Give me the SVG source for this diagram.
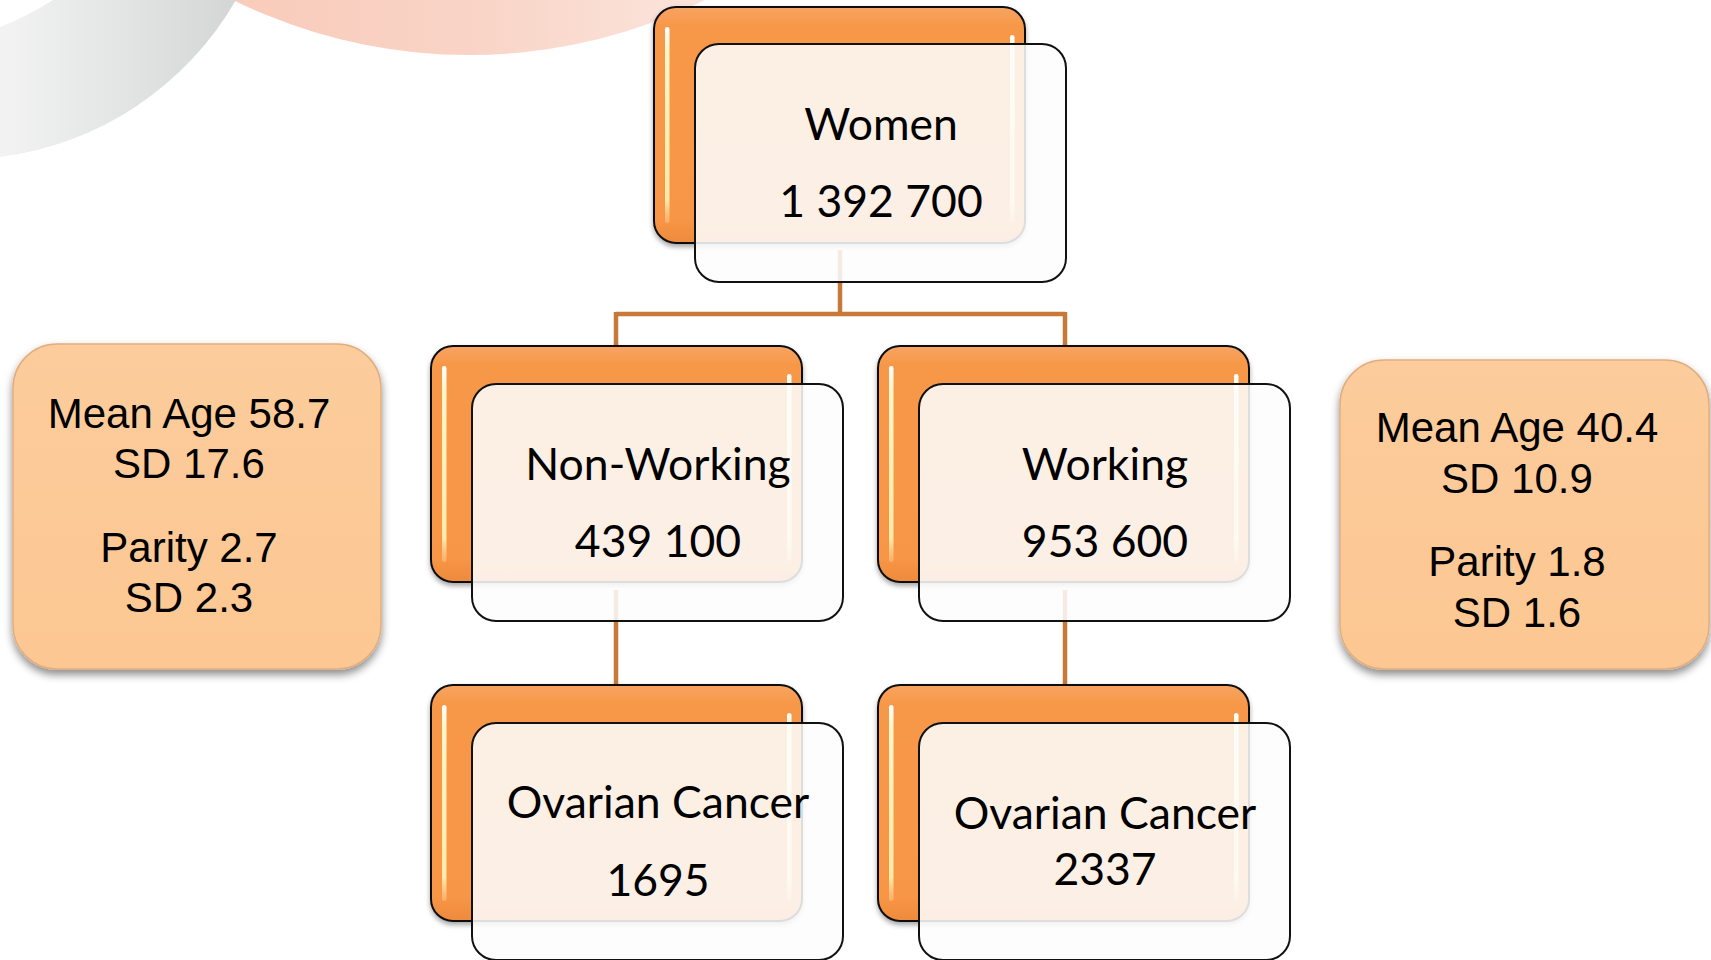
<svg xmlns="http://www.w3.org/2000/svg" width="1711" height="960" viewBox="0 0 1711 960">
  <defs>
    <linearGradient id="greyArc" gradientUnits="userSpaceOnUse" x1="0" y1="0" x2="236" y2="0">
      <stop offset="0" stop-color="#f3f3f3"/>
      <stop offset="1" stop-color="#d4d6d6"/>
    </linearGradient>
    <linearGradient id="peach" gradientUnits="userSpaceOnUse" x1="233" y1="0" x2="705" y2="0">
      <stop offset="0" stop-color="#f9cbba"/>
      <stop offset="0.5" stop-color="#f9d4c6"/>
      <stop offset="1" stop-color="#fbe4dc"/>
    </linearGradient>
    <linearGradient id="orangeFill" x1="0" y1="0" x2="0" y2="1">
      <stop offset="0" stop-color="#f8a463"/>
      <stop offset="0.08" stop-color="#f79848"/>
      <stop offset="0.9" stop-color="#f79646"/>
      <stop offset="1" stop-color="#ee8a3c"/>
    </linearGradient>
    <linearGradient id="shine" x1="0" y1="0" x2="0" y2="1">
      <stop offset="0" stop-color="#ffffff"/>
      <stop offset="0.12" stop-color="#fff6c8"/>
      <stop offset="0.88" stop-color="#ffeaa8"/>
      <stop offset="1" stop-color="#fbc07f" stop-opacity="0.6"/>
    </linearGradient>
    <linearGradient id="sideFill" x1="0" y1="0" x2="0" y2="1">
      <stop offset="0" stop-color="#fccc9c"/>
      <stop offset="1" stop-color="#fcc792"/>
    </linearGradient>
    <filter id="shadow" x="-10%" y="-10%" width="120%" height="125%">
      <feDropShadow dx="0" dy="3" stdDeviation="2.5" flood-color="#000" flood-opacity="0.35"/>
    </filter>
    <filter id="sideShadow" x="-10%" y="-10%" width="120%" height="125%">
      <feDropShadow dx="0" dy="5" stdDeviation="4" flood-color="#000" flood-opacity="0.45"/>
    </filter>
    <style>
      .conn { fill: none; stroke: #c87837; stroke-width: 4.5; }
      .back { fill: url(#orangeFill); stroke: #111; stroke-width: 2; filter: url(#shadow); }
      .hl { fill: url(#shine); }
      .front { fill: #fdfdfd; fill-opacity: 0.87; stroke: #111; stroke-width: 2; }
      .ntext { font-family: Lato, "Open Sans", sans-serif; font-size: 44.5px; fill: #000; text-anchor: middle; }
      .side { fill: url(#sideFill); stroke: #e2ae80; stroke-width: 1.5; filter: url(#sideShadow); }
      .stext { font-family: "Liberation Sans", Arial, sans-serif; font-size: 42px; fill: #000; text-anchor: middle; }
    </style>
  </defs>

  <rect x="0" y="0" width="1711" height="960" fill="#ffffff"/>

  <g id="background">
    <circle cx="469" cy="-479" r="534" fill="url(#peach)"/>
    <path d="M53 0 L236 0 A319 319 0 0 1 0 157 L0 27 Q28 16 53 0 Z" fill="url(#greyArc)"/>
  </g>

  <g id="connectors">
    <path class="conn" d="M840 250 V314 M616 314 H1065 M616 312 V350 M1065 312 V350"/>
    <path class="conn" d="M616 590 V690"/>
    <path class="conn" d="M1065 590 V690"/>
  </g>

  <g id="node-women" transform="translate(654,7)">
    <rect class="back" x="0" y="0" width="371" height="236" rx="22"/>
    <rect class="hl" x="11" y="20" width="4.5" height="196" rx="2.2"/>
    <rect class="hl" x="356" y="28" width="4.5" height="188" rx="2.2"/>
    <rect class="front" x="41" y="37" width="371" height="238" rx="24"/>
    <text class="ntext" x="227" y="133">Women</text>
    <text class="ntext" x="227" y="210">1 392 700</text>
  </g>

  <g id="node-nonworking" transform="translate(431,346)">
    <rect class="back" x="0" y="0" width="371" height="236" rx="22"/>
    <rect class="hl" x="11" y="20" width="4.5" height="196" rx="2.2"/>
    <rect class="hl" x="356" y="28" width="4.5" height="188" rx="2.2"/>
    <rect class="front" x="41" y="38" width="371" height="237" rx="24"/>
    <text class="ntext" x="227" y="134">Non-Working</text>
    <text class="ntext" x="227" y="211">439 100</text>
  </g>

  <g id="node-working" transform="translate(878,346)">
    <rect class="back" x="0" y="0" width="371" height="236" rx="22"/>
    <rect class="hl" x="11" y="20" width="4.5" height="196" rx="2.2"/>
    <rect class="hl" x="356" y="28" width="4.5" height="188" rx="2.2"/>
    <rect class="front" x="41" y="38" width="371" height="237" rx="24"/>
    <text class="ntext" x="227" y="134">Working</text>
    <text class="ntext" x="227" y="211">953 600</text>
  </g>

  <g id="node-ovarian-nonworking" transform="translate(431,685)">
    <rect class="back" x="0" y="0" width="371" height="236" rx="22"/>
    <rect class="hl" x="11" y="20" width="4.5" height="196" rx="2.2"/>
    <rect class="hl" x="356" y="28" width="4.5" height="188" rx="2.2"/>
    <rect class="front" x="41" y="38" width="371" height="237" rx="24"/>
    <text class="ntext" x="227" y="133">Ovarian Cancer</text>
    <text class="ntext" x="227" y="211">1695</text>
  </g>

  <g id="node-ovarian-working" transform="translate(878,685)">
    <rect class="back" x="0" y="0" width="371" height="236" rx="22"/>
    <rect class="hl" x="11" y="20" width="4.5" height="196" rx="2.2"/>
    <rect class="hl" x="356" y="28" width="4.5" height="188" rx="2.2"/>
    <rect class="front" x="41" y="38" width="371" height="237" rx="24"/>
    <text class="ntext" x="227" y="144">Ovarian Cancer</text>
    <text class="ntext" x="227" y="200">2337</text>
  </g>

  <g id="stats-nonworking">
    <rect class="side" x="13" y="344" width="368" height="325" rx="44"/>
    <text class="stext" x="189" y="428">Mean Age 58.7</text>
    <text class="stext" x="189" y="478">SD 17.6</text>
    <text class="stext" x="189" y="562">Parity 2.7</text>
    <text class="stext" x="189" y="612">SD 2.3</text>
  </g>

  <g id="stats-working">
    <rect class="side" x="1340" y="360" width="369" height="309" rx="44"/>
    <text class="stext" x="1517" y="442">Mean Age 40.4</text>
    <text class="stext" x="1517" y="493">SD 10.9</text>
    <text class="stext" x="1517" y="576">Parity 1.8</text>
    <text class="stext" x="1517" y="627">SD 1.6</text>
  </g>
</svg>
